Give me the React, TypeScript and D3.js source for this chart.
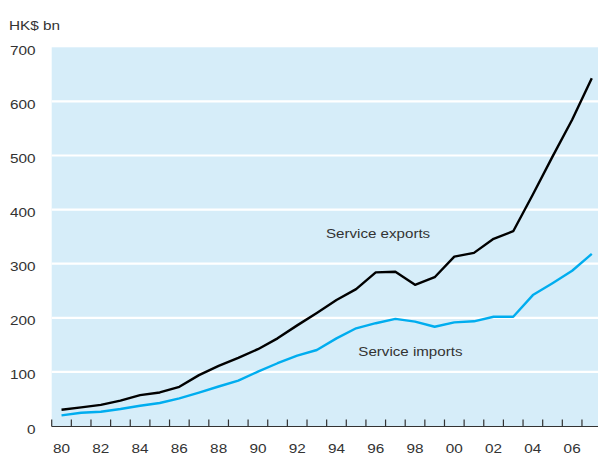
import React, { useEffect, useRef } from 'react';
import * as d3 from 'd3';

const years = d3.range(1980, 2008);
const serviceExports = [30, 34.5, 39, 47, 57, 62, 72.5, 94, 111, 126, 142, 162, 186, 209, 233, 253, 284, 285, 261, 275, 313, 320, 346, 360, 428, 498, 566, 643];
const serviceImports = [19.7, 24.6, 26.4, 31.4, 37.5, 42.5, 51, 61.6, 73, 84, 100.4, 116, 130, 140.5, 162, 180.6, 190, 198, 193, 183.5, 191.6, 193.5, 202, 202, 242, 264, 287, 318];
const yTicks = [0, 100, 200, 300, 400, 500, 600, 700];
const xTickYears = d3.range(1980, 2008, 2);

const App = () => {
  const svgRef = useRef<SVGSVGElement>(null);
  const svgWidth = 598;
  const svgHeight = 455;
  const plot = { left: 51.7, right: 601.6, top: 47.3, bottom: 426 };
  const fontFamily = '"Liberation Sans", Arial, Helvetica, sans-serif';
  const textColor = '#333333';
  const sx = 1.18;

  useEffect(() => {
    const svg = d3.select(svgRef.current);
    svg.selectAll('*').remove();

    const x = d3.scaleBand<number>()
      .domain(years)
      .range([plot.left, plot.right])
      .padding(0);

    const y = d3.scaleLinear()
      .domain([0, 700])
      .range([plot.bottom, plot.top]);

    const cx = (yr: number) => (x(yr) as number) + x.bandwidth() / 2;

    svg.append('rect')
      .attr('x', plot.left)
      .attr('y', plot.top)
      .attr('width', plot.right - plot.left)
      .attr('height', plot.bottom - plot.top)
      .attr('fill', '#d6edf9');

    // white gridlines
    svg.append('g')
      .selectAll('line')
      .data(yTicks.filter(t => t > 0 && t < 700))
      .enter().append('line')
      .attr('x1', plot.left)
      .attr('x2', plot.right)
      .attr('y1', d => y(d))
      .attr('y2', d => y(d))
      .attr('stroke', '#ffffff')
      .attr('stroke-width', 2.2);

    // y labels
    svg.append('g')
      .selectAll('text')
      .data(yTicks)
      .enter().append('text')
      .attr('transform', d => `translate(35.5,${y(d) + 7.5}) scale(${sx},1)`)
      .attr('text-anchor', 'end')
      .attr('font-family', fontFamily)
      .attr('font-size', 13)
      .attr('fill', textColor)
      .text(d => d);

    svg.append('text')
      .attr('transform', `translate(9,30) scale(${sx},1)`)
      .attr('font-family', fontFamily)
      .attr('font-size', 13)
      .attr('fill', textColor)
      .text('HK$ bn');

    // x axis with ticks at band edges
    const axis = svg.append('g');
    axis.append('line')
      .attr('x1', plot.left)
      .attr('x2', svgWidth)
      .attr('y1', plot.bottom + 0.5)
      .attr('y2', plot.bottom + 0.5)
      .attr('stroke', '#333333')
      .attr('stroke-width', 1.2);
    axis.selectAll('line.tick')
      .data(years)
      .enter().append('line')
      .attr('class', 'tick')
      .attr('x1', d => (x(d) as number))
      .attr('x2', d => (x(d) as number))
      .attr('y1', plot.bottom - 6.5)
      .attr('y2', plot.bottom + 0.5)
      .attr('stroke', '#333333')
      .attr('stroke-width', 1.2);
    axis.selectAll('text')
      .data(xTickYears)
      .enter().append('text')
      .attr('transform', d => `translate(${cx(d)},452.5) scale(${sx},1)`)
      .attr('text-anchor', 'middle')
      .attr('font-family', fontFamily)
      .attr('font-size', 13)
      .attr('fill', textColor)
      .text(d => String(d % 100).padStart(2, '0'));

    const line = d3.line<number>()
      .x((_, i) => cx(years[i]))
      .y(d => y(d));

    svg.append('path')
      .datum(serviceImports)
      .attr('d', line)
      .attr('fill', 'none')
      .attr('stroke', '#00adef')
      .attr('stroke-width', 2.4)
      .attr('stroke-linejoin', 'round');

    svg.append('path')
      .datum(serviceExports)
      .attr('d', line)
      .attr('fill', 'none')
      .attr('stroke', '#000000')
      .attr('stroke-width', 2.4)
      .attr('stroke-linejoin', 'round');

    // series labels
    svg.append('text')
      .attr('transform', `translate(326,237.5) scale(1.12,1)`)
      .attr('font-family', fontFamily)
      .attr('font-size', 13.5)
      .attr('fill', textColor)
      .text('Service exports');

    svg.append('text')
      .attr('transform', `translate(358.3,355.5) scale(1.12,1)`)
      .attr('font-family', fontFamily)
      .attr('font-size', 13.5)
      .attr('fill', textColor)
      .text('Service imports');
  }, []);

  return (
    <svg
      ref={svgRef}
      width={svgWidth}
      height={svgHeight}
      style={{ position: 'absolute', left: 0, top: 0, background: '#ffffff' }}
    ></svg>
  );
};

export default App;
